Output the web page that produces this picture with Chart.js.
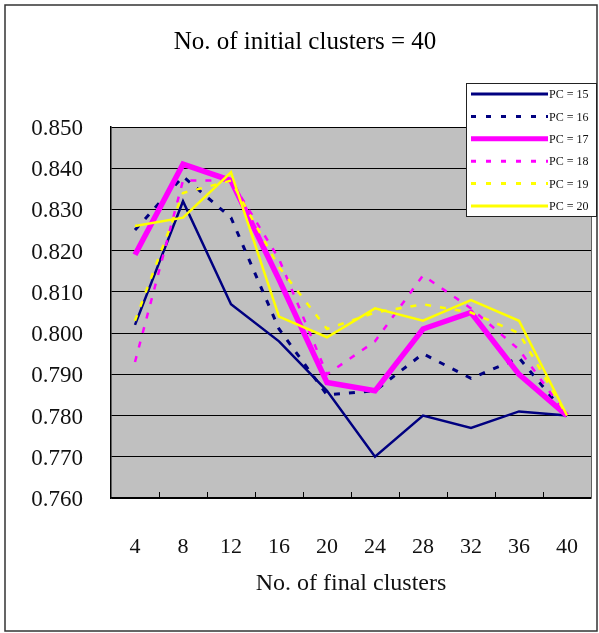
<!DOCTYPE html>
<html>
<head>
<meta charset="utf-8">
<script src="https://cdn.jsdelivr.net/npm/chart.js@4/dist/chart.umd.min.js"></script>
<style>
  html, body { margin: 0; padding: 0; background: #fff; }
  canvas { display: block; }
</style>
</head>
<body>
<canvas id="chartClusters" width="599" height="633"></canvas>
<script>
// values
const finalClusters = ['4', '8', '12', '16', '20', '24', '28', '32', '36', '40'];
const pc15 = [0.802, 0.832, 0.807, 0.798, 0.786, 0.770, 0.780, 0.777, 0.781, 0.780];
const pc16 = [0.825, 0.838, 0.828, 0.801, 0.785, 0.786, 0.795, 0.789, 0.794, 0.780];
const pc17 = [0.819, 0.841, 0.837, 0.813, 0.788, 0.786, 0.801, 0.805, 0.790, 0.780];
const pc18 = [0.793, 0.837, 0.837, 0.818, 0.790, 0.798, 0.814, 0.806, 0.796, 0.780];
const pc19 = [0.803, 0.834, 0.837, 0.816, 0.801, 0.805, 0.807, 0.805, 0.800, 0.780];
const pc20 = [0.826, 0.828, 0.839, 0.804, 0.799, 0.806, 0.803, 0.808, 0.803, 0.780];
const seriesLabels = ['PC = 15', 'PC = 16', 'PC = 17', 'PC = 18', 'PC = 19', 'PC = 20'];
const yTicks = { min: 0.76, max: 0.85, step: 0.01 };

const NAVY = '#000080', MAGENTA = '#ff00ff', YELLOW = '#ffff00';
const SERIF = '"Liberation Serif", "DejaVu Serif", serif';

const styles = [
  { color: NAVY, width: 2.5, dash: [] },
  { color: NAVY, width: 3, dash: [6, 9] },
  { color: MAGENTA, width: 5.5, dash: [] },
  { color: MAGENTA, width: 2.5, dash: [6, 9] },
  { color: YELLOW, width: 2.5, dash: [6, 9] },
  { color: YELLOW, width: 2.5, dash: [] }
];

const datasets = [pc15, pc16, pc17, pc18, pc19, pc20].map((data, i) => ({
  label: seriesLabels[i],
  data,
  borderColor: styles[i].color,
  backgroundColor: styles[i].color,
  borderWidth: styles[i].width,
  borderDash: styles[i].dash,
  pointRadius: 0,
  tension: 0,
  fill: false,
  order: 5 - i // later series on top, like the original
}));

// gray plot area, outer frame, title, inside ticks and the boxed legend
const framePlugin = {
  id: 'frame',
  beforeDraw(chart) {
    const { ctx, chartArea: a } = chart;
    ctx.save();
    ctx.fillStyle = '#c0c0c0';
    ctx.fillRect(a.left, a.top, a.right - a.left, a.bottom - a.top);
    ctx.restore();
  },
  afterDatasetsDraw(chart) {
    const { ctx, chartArea: a } = chart;
    const x = chart.scales.x;
    ctx.save();
    ctx.strokeStyle = '#000';
    ctx.lineWidth = 1;
    ctx.beginPath();
    for (let i = 1; i < finalClusters.length; i++) {
      const px = Math.round((x.getPixelForValue(i - 1) + x.getPixelForValue(i)) / 2) + 0.5;
      ctx.moveTo(px, a.bottom - 6);
      ctx.lineTo(px, a.bottom);
    }
    ctx.stroke();
    ctx.strokeStyle = '#606060';
    ctx.beginPath();
    ctx.moveTo(a.right + 0.5, a.top);
    ctx.lineTo(a.right + 0.5, a.bottom);
    ctx.stroke();
    ctx.restore();
  },
  afterDraw(chart) {
    const { ctx } = chart;
    ctx.save();
    // outer frame
    ctx.strokeStyle = '#333';
    ctx.lineWidth = 1.5;
    ctx.strokeRect(5, 5, 592, 626);

    // title
    ctx.fillStyle = '#000';
    ctx.font = `25px ${SERIF}`;
    ctx.textAlign = 'center';
    ctx.textBaseline = 'middle';
    ctx.fillText('No. of initial clusters = 40', 305, 42);

    // legend
    ctx.fillStyle = '#fff';
    ctx.fillRect(466.5, 83.5, 130, 133);
    ctx.strokeStyle = '#222';
    ctx.lineWidth = 1;
    ctx.strokeRect(466.5, 83.5, 130, 133);
    ctx.font = `12px ${SERIF}`;
    ctx.textAlign = 'left';
    chart.data.datasets.forEach((ds, i) => {
      const y = 94 + i * 22.4;
      ctx.strokeStyle = ds.borderColor;
      ctx.lineWidth = i === 2 ? 5 : 3;
      ctx.setLineDash(ds.borderDash.length ? [5, 10] : []);
      ctx.beginPath();
      ctx.moveTo(471, y);
      ctx.lineTo(548, y);
      ctx.stroke();
      ctx.setLineDash([]);
      ctx.fillStyle = '#111';
      ctx.fillText(ds.label, 549, y + 1);
    });
    ctx.restore();
  }
};

new Chart(document.getElementById('chartClusters'), {
  type: 'line',
  data: { labels: finalClusters, datasets },
  options: {
    responsive: false,
    animation: false,
    layout: { padding: { top: 127, right: 8, bottom: 0, left: 0 } },
    plugins: {
      legend: { display: false },
      title: { display: false },
      tooltip: { enabled: false }
    },
    scales: {
      x: {
        offset: true,
        grid: { display: false, offset: true },
        border: { display: true, color: '#000', width: 1.5 },
        ticks: { color: '#111', font: { family: SERIF, size: 22 }, padding: 28, maxRotation: 0 },
        title: {
          display: true,
          text: 'No. of final clusters',
          color: '#111',
          font: { family: SERIF, size: 24 },
          padding: { top: 0, bottom: 35 }
        },
        afterFit(scale) {
          scale.height = 135;
          scale.paddingLeft = 0;
          scale.paddingRight = 0;
        }
      },
      y: {
        min: yTicks.min,
        max: yTicks.max,
        grid: { color: '#000', lineWidth: 1, drawTicks: false },
        border: { display: true, color: '#000', width: 1.5 },
        ticks: {
          stepSize: yTicks.step,
          color: '#111',
          font: { family: SERIF, size: 23 },
          padding: 28,
          labelOffset: 2,
          callback: v => v.toFixed(3)
        },
        afterFit(scale) { scale.width = 111; }
      }
    }
  },
  plugins: [framePlugin]
});
</script>
</body>
</html>
